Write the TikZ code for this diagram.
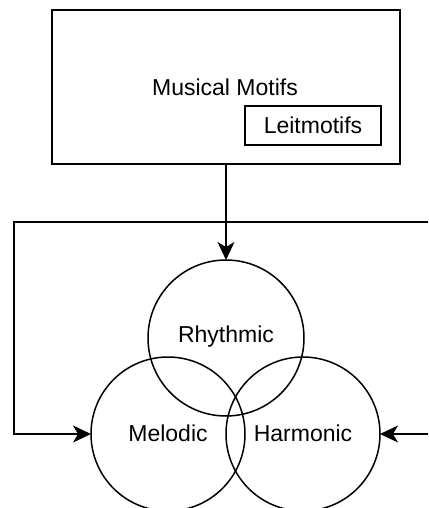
\documentclass[tikz,border=0pt]{standalone}
\usepackage{fontspec}
\setmainfont{Liberation Sans}
\usetikzlibrary{arrows.meta}
\begin{document}
\begin{tikzpicture}[x=1pt,y=-1pt,
  every node/.style={inner sep=0pt,outer sep=0pt},
  lbl/.style={font=\fontsize{23}{26}\selectfont},
  box/.style={draw,line width=1.5pt,rectangle,lbl},
  ring/.style={draw,line width=1.5pt,circle,lbl},
  tip/.tip={Stealth[length=18pt,width=17pt,inset=5pt]},
  flow/.style={line width=1.5pt,-tip},
  flow2/.style={line width=1.5pt,tip-tip}]
  \useasboundingbox (0,0) rectangle (428,508);
  \clip (0,0) rectangle (428,508);

  % outer box with its caption and the inner tag
  \node[box,minimum width=348pt,minimum height=154pt] (motifs) at (226,87) {};
  \node[lbl] (motifstxt) at (225,87) {Musical Motifs};
  \node[box,minimum width=136pt,minimum height=39pt] (leit) at (313,125.5) {Leitmotifs};

  % the three overlapping aspects
  \node[ring,minimum size=156pt] (rhythm) at (226,338) {};
  \node[lbl] (rhythmtxt) at (226,337) {Rhythmic};
  \node[ring,minimum size=154pt] (melodic) at (168,434) {};
  \node[lbl] (melodictxt) at (168,433) {Melodic};
  \node[ring,minimum size=154pt] (harmonic) at (303,434) {};
  \node[lbl] (harmonictxt) at (303,433) {Harmonic};

  % connectors
  \coordinate (cl) at (14,222);
  \coordinate (cr) at (450,222);
  \draw[flow2] (melodic.west) -| (cl) -- (cr) |- (harmonic.east);
  \draw[flow] (motifs.south) -- (rhythm.north);
\end{tikzpicture}
\end{document}
